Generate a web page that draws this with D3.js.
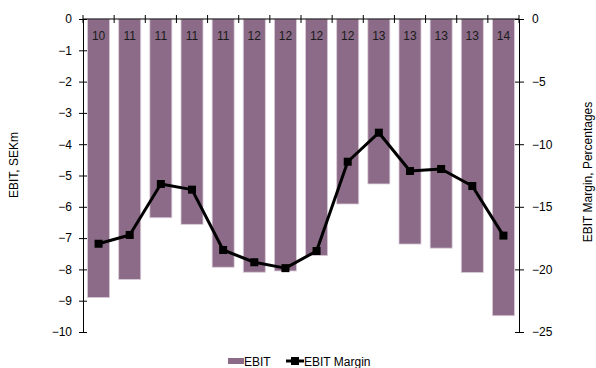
<!DOCTYPE html>
<html>
<head>
<meta charset="utf-8">
<script src="https://cdn.jsdelivr.net/npm/d3@7"></script>
<style>
  html, body { margin: 0; padding: 0; background: #fff; }
  svg { display: block; font-family: "Liberation Sans", Arial, sans-serif; }
</style>
</head>
<body>
<svg id="chart" width="596" height="368"></svg>
<script>
// Quarterly periods (year labels shown inside the bars)
const periods = ["Q4 10", "Q1 11", "Q2 11", "Q3 11", "Q4 11", "Q1 12", "Q2 12", "Q3 12",
                 "Q4 12", "Q1 13", "Q2 13", "Q3 13", "Q4 13", "Q1 14"];
const yearLabels = ["10", "11", "11", "11", "11", "12", "12", "12", "12", "13", "13", "13", "13", "14"];
// EBIT, SEKm
const ebit = [-8.9, -8.32, -6.35, -6.56, -7.93, -8.09, -8.05, -7.56, -5.91, -5.27, -7.19, -7.32, -8.1, -9.48];
// EBIT margin, percent
const ebitMargin = [-17.95, -17.25, -13.18, -13.63, -18.45, -19.43, -19.9, -18.53, -11.4, -9.08, -12.14, -11.98, -13.34, -17.3];
const leftTicks = [0, -1, -2, -3, -4, -5, -6, -7, -8, -9, -10];
const rightTicks = [0, -5, -10, -15, -20, -25];

const barColor = "#8b6b87";
const svg = d3.select("#chart");
const m = { left: 83, right: 519, top: 19, bottom: 332 };

const x = d3.scaleBand().domain(d3.range(periods.length)).range([m.left, m.right]).paddingInner(0.3).paddingOuter(0.15);
const xb = d3.scaleBand().domain(d3.range(periods.length)).range([m.left, m.right]);
const yL = d3.scaleLinear().domain([0, -10]).range([m.top, m.bottom]);
const yR = d3.scaleLinear().domain([0, -25]).range([m.top, m.bottom]);

// Bars
svg.append("g").selectAll("rect").data(ebit).join("rect")
  .attr("x", (d, i) => xb(i) + (xb.bandwidth() - 22) / 2)
  .attr("width", 22)
  .attr("y", yL(0))
  .attr("height", d => yL(d) - yL(0))
  .attr("fill", barColor)
  .attr("stroke", "#d9cbd7")
  .attr("stroke-width", 0.8);

// Year labels inside the bars
svg.append("g").selectAll("text").data(yearLabels).join("text")
  .attr("x", (d, i) => xb(i) + xb.bandwidth() / 2)
  .attr("y", 40)
  .attr("text-anchor", "middle")
  .attr("font-size", 12)
  .attr("fill", "#1a1a1a")
  .text(d => d);

// Axes
const axisStyle = g => {
  g.select(".domain").attr("stroke", "#000").attr("stroke-width", 1);
  g.selectAll(".tick line").attr("stroke", "#000");
  g.selectAll(".tick text").attr("font-size", 12).attr("fill", "#000")
    .attr("font-family", "Liberation Sans, Arial, sans-serif");
};

const gl = svg.append("g").attr("transform", `translate(${m.left},0)`)
  .call(d3.axisLeft(yL).tickValues(leftTicks).tickSize(4).tickSizeOuter(0).tickPadding(7).tickFormat(d3.format("d")));
gl.call(axisStyle);
gl.selectAll(".tick line").attr("x1", 4);

const gr = svg.append("g").attr("transform", `translate(${m.right},0)`)
  .call(d3.axisRight(yR).tickValues(rightTicks).tickSize(5).tickSizeOuter(0).tickPadding(8).tickFormat(d3.format("d")));
gr.call(axisStyle);
gr.selectAll(".tick line").attr("x1", -4);

// Top category axis with ticks at band boundaries
const boundaries = d3.range(periods.length + 1).map(i => m.left + i * xb.step());
svg.append("line").attr("x1", m.left).attr("x2", m.right).attr("y1", m.top).attr("y2", m.top).attr("stroke", "#000");
svg.append("g").selectAll("line").data(boundaries).join("line")
  .attr("x1", d => d).attr("x2", d => d)
  .attr("y1", m.top - 4).attr("y2", m.top + 4)
  .attr("stroke", "#000");

// Margin line
const line = d3.line().x((d, i) => xb(i) + xb.bandwidth() / 2).y(d => yR(d));
svg.append("path").datum(ebitMargin).attr("d", line)
  .attr("fill", "none").attr("stroke", "#000").attr("stroke-width", 3).attr("stroke-linejoin", "round");
svg.append("g").selectAll("rect").data(ebitMargin).join("rect")
  .attr("x", (d, i) => xb(i) + xb.bandwidth() / 2 - 4)
  .attr("y", d => yR(d) - 4)
  .attr("width", 8).attr("height", 8)
  .attr("fill", "#000");

// Axis titles
svg.append("text").attr("transform", "translate(18,165) rotate(-90)")
  .attr("text-anchor", "middle").attr("font-size", 12).attr("fill", "#000").text("EBIT, SEKm");
svg.append("text").attr("transform", "translate(592,172) rotate(-90)")
  .attr("text-anchor", "middle").attr("font-size", 12).attr("fill", "#000").text("EBIT Margin, Percentages");

// Legend
const lg = svg.append("g");
lg.append("rect").attr("x", 228).attr("y", 358).attr("width", 16).attr("height", 6).attr("fill", barColor);
lg.append("text").attr("x", 244).attr("y", 365.5).attr("font-size", 12).attr("fill", "#000").text("EBIT");
lg.append("line").attr("x1", 286).attr("x2", 304).attr("y1", 361).attr("y2", 361).attr("stroke", "#000").attr("stroke-width", 3);
lg.append("rect").attr("x", 291).attr("y", 357).attr("width", 8).attr("height", 8).attr("fill", "#000");
lg.append("text").attr("x", 304).attr("y", 365.5).attr("font-size", 12).attr("fill", "#000").text("EBIT Margin");
</script>
</body>
</html>
